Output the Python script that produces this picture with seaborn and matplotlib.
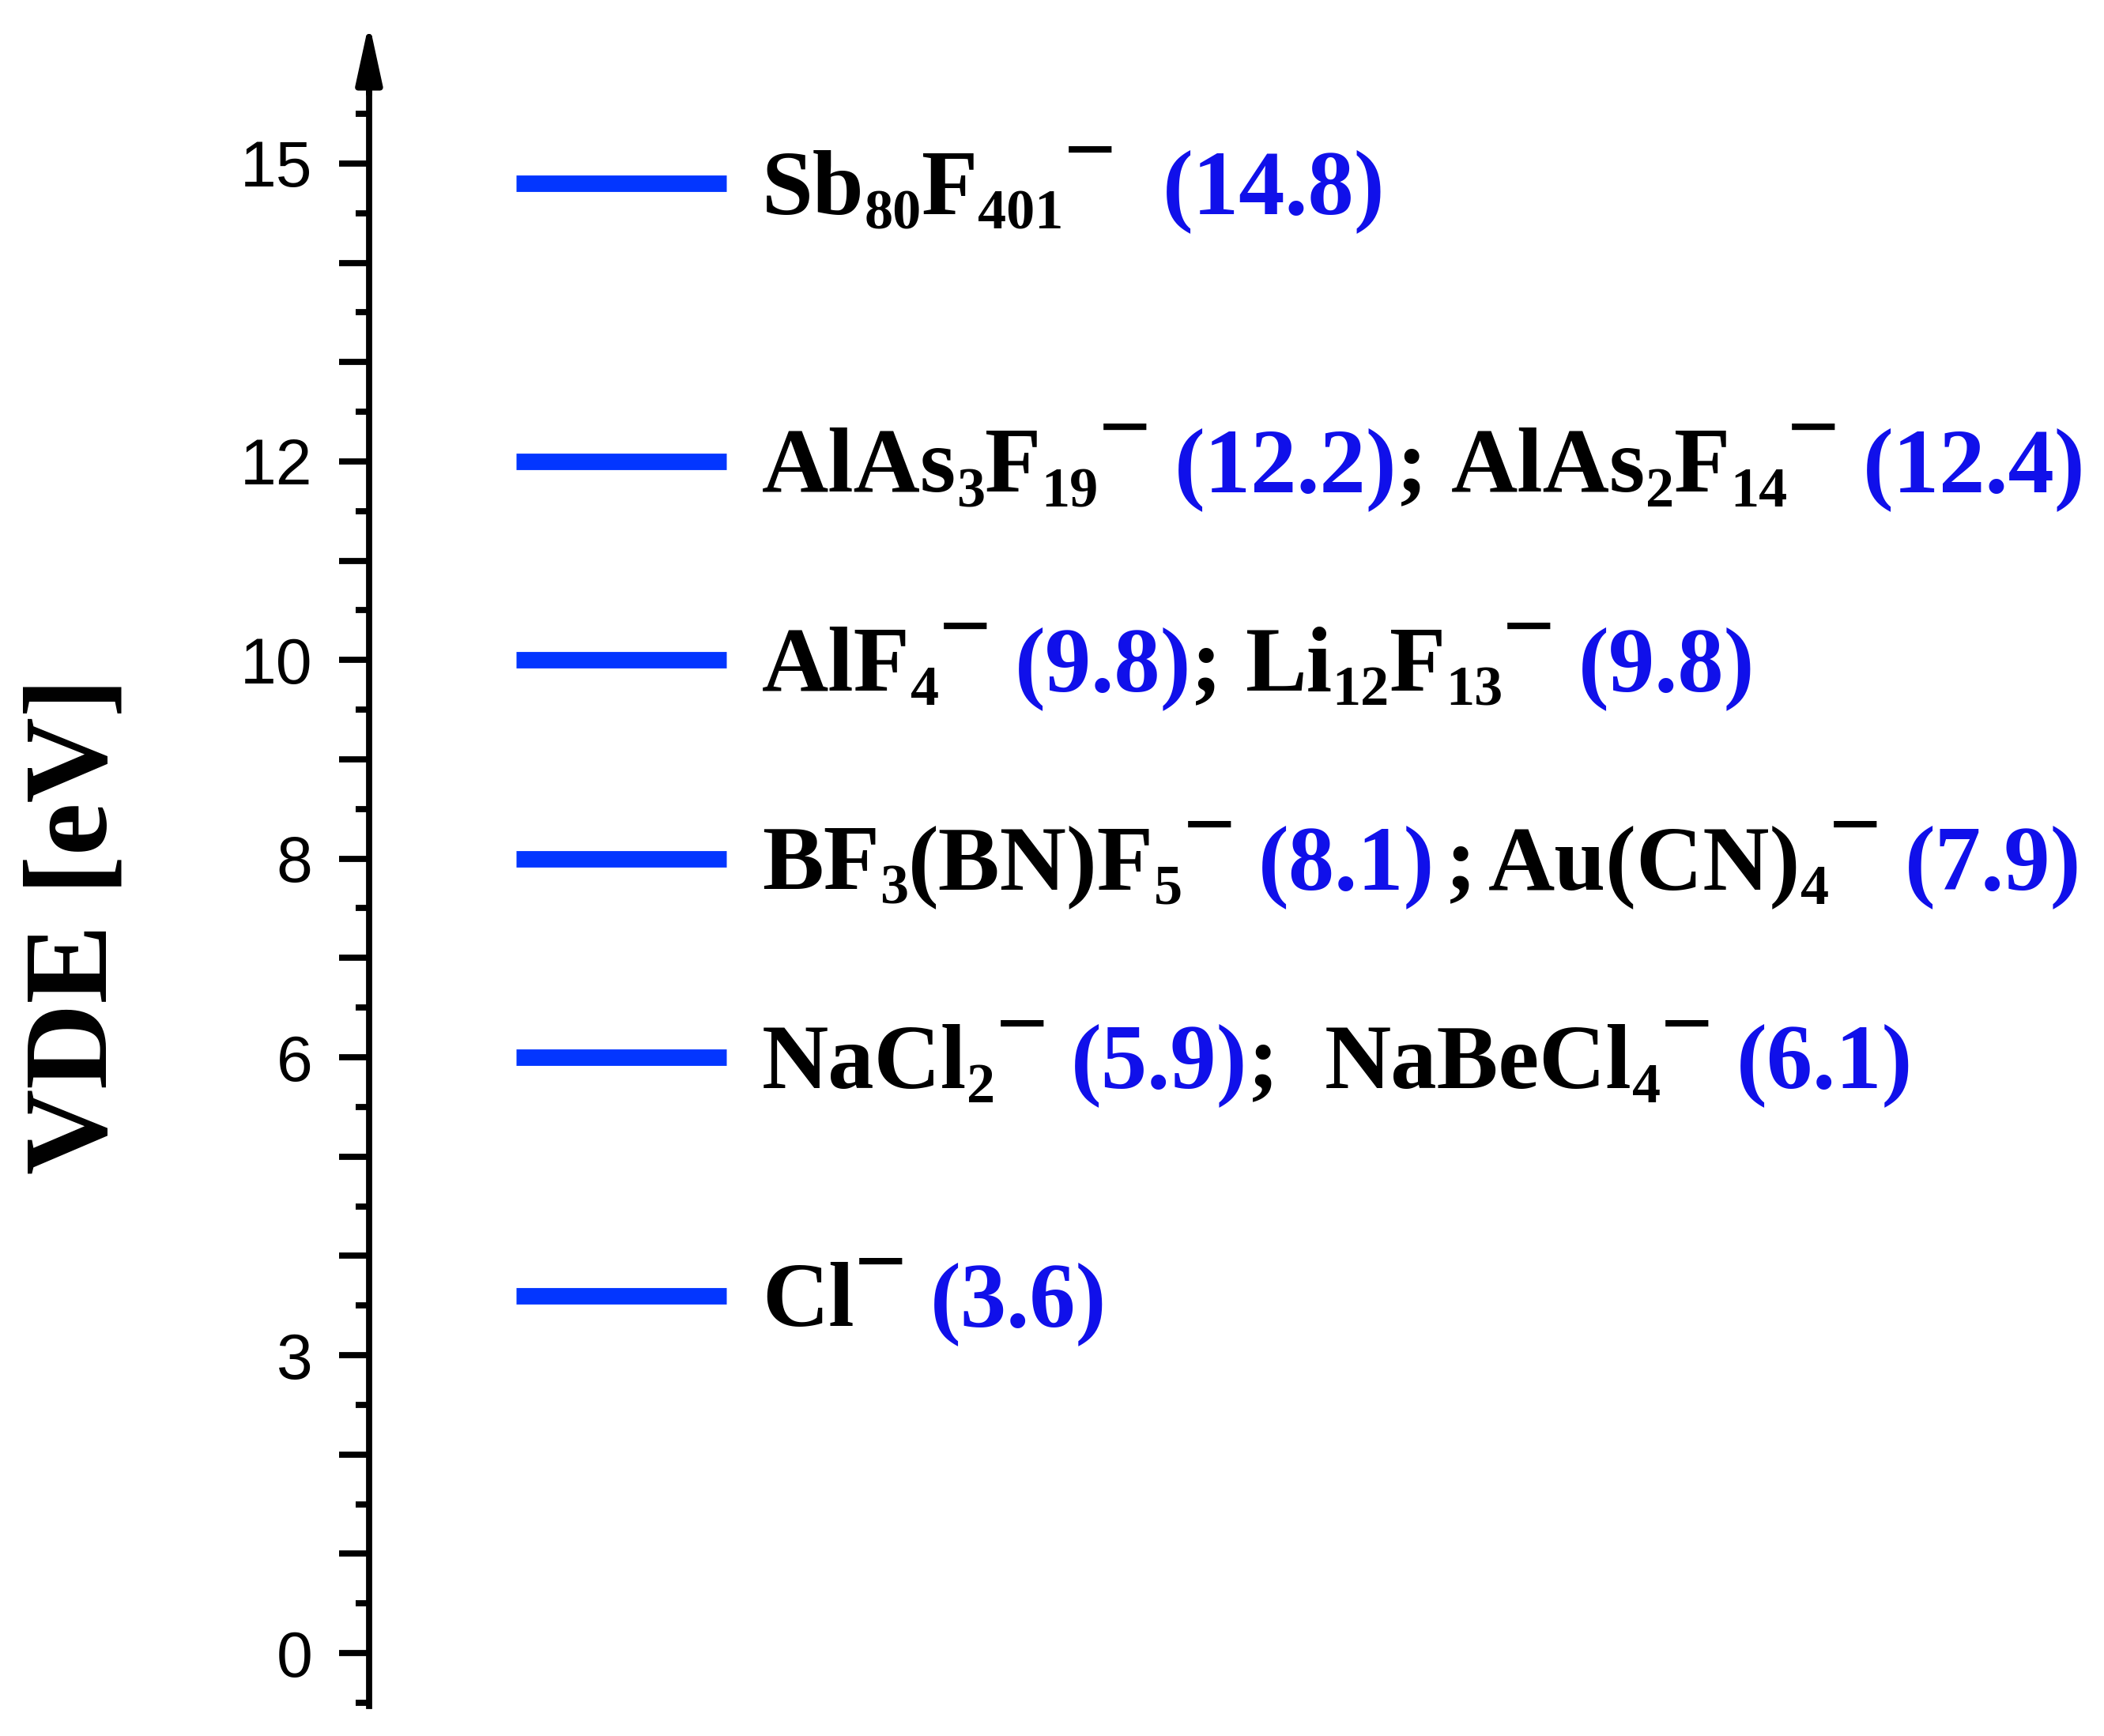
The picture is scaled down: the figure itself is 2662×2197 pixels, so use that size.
import matplotlib
matplotlib.use('Agg')
import matplotlib.pyplot as plt
import matplotlib.transforms as mtrans
from matplotlib.ticker import FuncFormatter
import numpy as np
import pandas as pd
import seaborn as sns

# VDE levels (eV) where the blue bars sit
levels = [14.8, 12.0, 10.0, 8.0, 6.0, 3.6]

# labelled ticks on the energy axis
shown_ticks = [0, 3, 6, 8, 10, 12, 15]

# label pieces per level: n = formula, s = subscript, m = charge, g = space, t = thin space, v = VDE value
labels = [
    [("Sb", "n"), ("80", "s"), ("F", "n"), ("401", "s"), ("\u2212", "m"), ("  ", "g"), ("(14.8)", "v")],
    [("AlAs", "n"), ("3", "s"), ("F", "n"), ("19", "s"), ("\u2212", "m"), (" ", "g"), ("(12.2)", "v"),
     (";", "n"), (" ", "g"), ("AlAs", "n"), ("2", "s"), ("F", "n"), ("14", "s"), ("\u2212", "m"),
     (" ", "g"), ("(12.4)", "v")],
    [("AlF", "n"), ("4", "s"), ("\u2212", "m"), (" ", "g"), ("(9.8)", "v"), (";", "n"), (" ", "g"),
     ("Li", "n"), ("12", "s"), ("F", "n"), ("13", "s"), ("\u2212", "m"), (" ", "g"), ("(9.8)", "v")],
    [("BF", "n"), ("3", "s"), ("(BN)F", "n"), ("5", "s"), ("\u2212", "m"), (" ", "g"), ("(8.1)", "v"),
     (" ", "t"), (";", "n"), (" ", "t"), ("Au(CN)", "n"), ("4", "s"), ("\u2212", "m"), (" ", "g"),
     ("(7.9)", "v")],
    [("NaCl", "n"), ("2", "s"), ("\u2212", "m"), (" ", "g"), ("(5.9)", "v"), (";", "n"), ("  ", "g"),
     ("NaBeCl", "n"), ("4", "s"), ("\u2212", "m"), (" ", "g"), ("(6.1)", "v")],
    [("Cl", "n"), ("\u2212", "m"), (" ", "g"), ("(3.6)", "v")],
]

bar_color = "#0336ff"
val_color = "#1010ea"
bar_x = (0.085, 0.206)   # bar span in axes fraction
text_x = 0.2265
S = 42                   # main label size (pt)

sns.set_style("ticks")
plt.rcParams['font.family'] = ['Liberation Sans', 'DejaVu Sans']

fig = plt.figure(figsize=(13.31, 10.985), dpi=200)
ax = fig.add_axes([0.1754, 0.01747, 0.8246, 0.9684])

# the levels as short horizontal lines
bars = pd.DataFrame({
    'vde': np.repeat(levels, 2),
    'x': np.tile(bar_x, len(levels)),
    'lvl': np.repeat(np.arange(len(levels)), 2),
})
sns.lineplot(data=bars, x='x', y='vde', units='lvl', estimator=None, sort=False,
             color=bar_color, lw=7.5, solid_capstyle='butt', legend=False, ax=ax)

ax.set_xlim(0, 1)
ax.set_ylim(-0.53, 16.4)
ax.set_xlabel('')
ax.set_xticks([])
for s in ['top', 'right', 'bottom']:
    ax.spines[s].set_visible(False)
ax.spines['left'].set_linewidth(2.8)
ax.spines['left'].set_color('black')
ax.spines['left'].set_bounds(-0.53, 16.0)

ax.set_yticks(np.arange(0, 16))
ax.set_yticks(np.arange(-0.5, 16, 1.0), minor=True)
ax.yaxis.set_major_formatter(FuncFormatter(lambda v, p: f'{int(round(v))}' if int(round(v)) in shown_ticks else ''))
ax.tick_params(axis='y', which='major', length=13.7, width=2.8, labelsize=29.6, pad=12,
               direction='out', colors='black')
ax.tick_params(axis='y', which='minor', length=6.1, width=2.8, direction='out', colors='black')

# arrow head on top of the axis
ax.annotate('', xy=(0, 16.42), xytext=(0, 15.7), xycoords=('axes fraction', 'data'),
            textcoords=('axes fraction', 'data'),
            arrowprops=dict(arrowstyle='-|>,head_length=2.3,head_width=0.5', mutation_scale=10,
                            color='black', lw=2.8, shrinkA=0, shrinkB=0), annotation_clip=False)

ax.set_ylabel('VDE [eV]', fontsize=54, fontweight='bold', family='Liberation Serif', color='black')
ax.yaxis.set_label_coords(-0.168, 0.464)
ax.yaxis.label.set_va('center')

# formula labels, built piece by piece
fig.canvas.draw()
r = fig.canvas.get_renderer()
for y, pieces in zip(levels, labels):
    xoff = 0.0
    for txt, kind in pieces:
        if kind == 'g':
            xoff += 0.25 * S * len(txt)
            continue
        if kind == 't':
            xoff += 0.12 * S * len(txt)
            continue
        size, dy, color = S, 0.0, 'black'
        if kind == 's':
            size, dy = 0.62 * S, -0.16 * S
        elif kind == 'm':
            dy = 0.37 * S
        elif kind == 'v':
            color = val_color
        tr = mtrans.blended_transform_factory(
            mtrans.offset_copy(ax.transAxes, fig=fig, x=xoff, y=0, units='points'),
            mtrans.offset_copy(ax.transData, fig=fig, x=0, y=dy - 0.33 * S, units='points'))
        t = ax.text(text_x, y, txt, transform=tr, fontsize=size, color=color, fontweight='bold',
                    family='Liberation Serif', ha='left', va='baseline')
        bb = t.get_window_extent(r)
        xoff += bb.width * 72 / fig.dpi

fig.savefig('out.png', dpi=200)
